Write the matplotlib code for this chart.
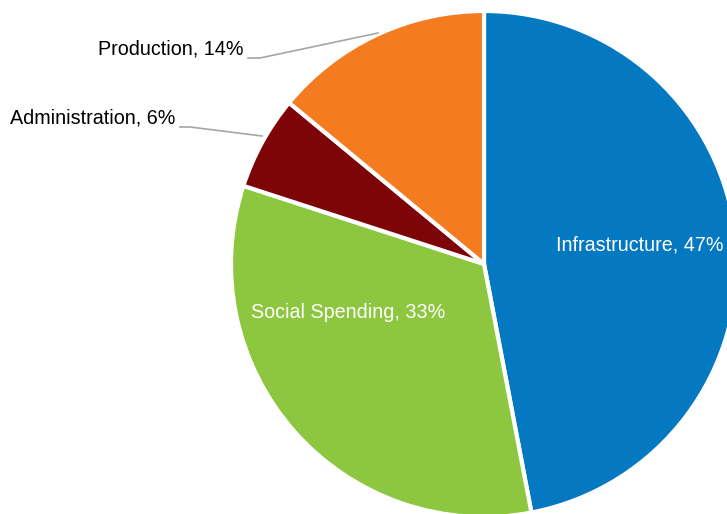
import matplotlib.pyplot as plt

categories = ['Infrastructure', 'Social Spending', 'Administration', 'Production']
shares = [47, 33, 6, 14]
colors = ['#0479C1', '#8DC63F', '#7D0508', '#F47B20']

W, H = 727, 514
fig = plt.figure(figsize=(W / 100, H / 100), dpi=100)
ax = fig.add_axes([0, 0, 1, 1])

cx, cy, r = 484, H - 264, 253
ax.pie(shares, colors=colors, startangle=90, counterclock=False,
       center=(cx, cy), radius=r, frame=True,
       wedgeprops=dict(edgecolor='white', linewidth=3))
ax.set_xlim(0, W)
ax.set_ylim(0, H)
ax.set_aspect('equal')
ax.axis('off')

font = ['Liberation Sans', 'DejaVu Sans']
fs = 14.2
labels = [f'{c}, {v}%' for c, v in zip(categories, shares)]

# inside labels
ax.text(640, H - 245, labels[0], color='white', fontsize=fs, family=font,
        ha='center', va='center')
ax.text(348, H - 313, labels[1], color='white', fontsize=fs, family=font,
        ha='center', va='center')

# outside labels with leader lines
ax.text(175, H - 118, labels[2], color='black', fontsize=fs, family=font,
        ha='right', va='center')
ax.plot([180, 190, 262], [H - 127, H - 127, H - 136], color='#A6A6A6', lw=1.2)
ax.text(243, H - 49, labels[3], color='black', fontsize=fs, family=font,
        ha='right', va='center')
ax.plot([248, 260, 378], [H - 58, H - 58, H - 33], color='#A6A6A6', lw=1.2)

fig.savefig('out.png', dpi=100)
